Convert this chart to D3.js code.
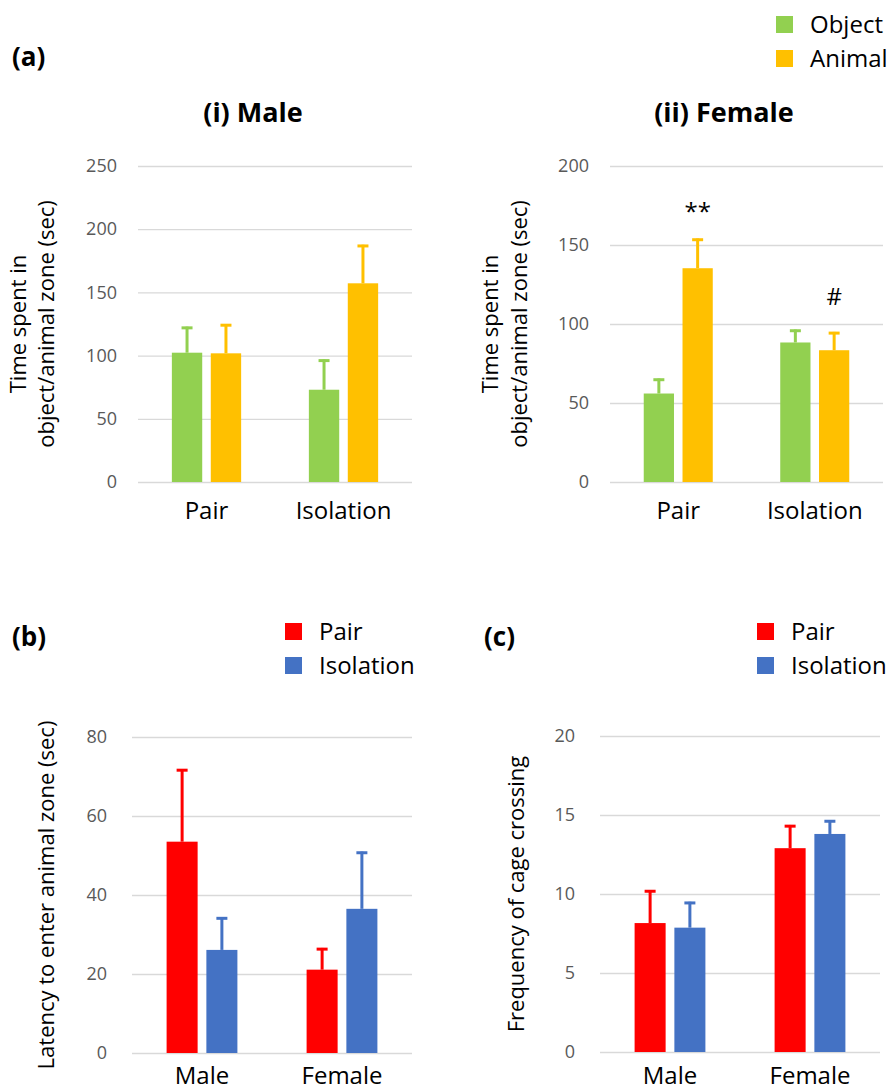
<!DOCTYPE html>
<html>
<head>
<meta charset="utf-8">
<script src="https://cdn.jsdelivr.net/npm/d3@7"></script>
<style>
  html, body { margin: 0; padding: 0; background: #fff; }
  svg { display: block; font-family: "Open Sans", sans-serif; }
</style>
</head>
<body>
<svg id="chart" width="889" height="1091"></svg>
<script>
// ---------------- DATA ----------------
const housingCategories = ["Pair", "Isolation"];
const zoneSeries = ["Object", "Animal"];
const sexCategories = ["Male", "Female"];
const housingSeries = ["Pair", "Isolation"];

// (a)(i) Male: time spent (sec)
const maleObjectMean = [102.3, 73.0];
const maleObjectErr = [20.6, 24.0];
const maleAnimalMean = [101.8, 157.2];
const maleAnimalErr = [23.2, 30.5];
const maleTicks = [0, 50, 100, 150, 200, 250];

// (a)(ii) Female: time spent (sec)
const femaleObjectMean = [56.0, 88.3];
const femaleObjectErr = [9.5, 8.2];
const femaleAnimalMean = [135.3, 83.4];
const femaleAnimalErr = [18.8, 11.6];
const femaleTicks = [0, 50, 100, 150, 200];
const femaleMarks = ["**", "#"];          // over Animal bars (Pair, Isolation)
const femaleMarkLevel = [166, 112];       // value level of the mark baseline

// (b) Latency to enter animal zone (sec)
const latencyPairMean = [53.5, 21.1];
const latencyPairErr = [18.4, 5.5];
const latencyIsolationMean = [26.1, 36.5];
const latencyIsolationErr = [8.3, 14.5];
const latencyTicks = [0, 20, 40, 60, 80];

// (c) Frequency of cage crossing
const crossingPairMean = [8.16, 12.9];
const crossingPairErr = [2.09, 1.47];
const crossingIsolationMean = [7.87, 13.8];
const crossingIsolationErr = [1.64, 0.88];
const crossingTicks = [0, 5, 10, 15, 20];

// ---------------- STYLE ----------------
const colors = {
  Object: "#92D050",
  Animal: "#FFC000",
  Pair: "#FF0000",
  Isolation: "#4472C4"
};

const svg = d3.select("#chart");

function drawPanel(cfg) {
  const g = svg.append("g");
  const y = d3.scaleLinear().domain([0, cfg.ticks[cfg.ticks.length - 1]]).range([cfg.bottom, cfg.top]);
  const x0 = d3.scaleBand().domain(cfg.categories).range([cfg.left, cfg.right]).padding(0);
  const x1 = d3.scaleBand().domain(cfg.series).range([0, x0.bandwidth()])
    .paddingInner(0.22).paddingOuter(0.87);

  // gridlines + tick labels
  const ax = g.append("g").attr("transform", `translate(${cfg.left},0)`)
    .call(d3.axisLeft(y).tickValues(cfg.ticks).tickSize(-(cfg.right - cfg.left)).tickPadding(cfg.tickPad));
  ax.select(".domain").remove();
  ax.selectAll(".tick line").attr("stroke", "#D9D9D9").attr("stroke-width", 1.3);
  ax.selectAll(".tick text").attr("fill", "#595959").style("font-size", "18px")
    .style("font-family", '"Open Sans", sans-serif');

  // bars + error bars
  cfg.series.forEach((s, si) => {
    const means = cfg.means[si], errs = cfg.errs[si];
    cfg.categories.forEach((c, ci) => {
      const bx = x0(c) + x1(s);
      const bw = x1.bandwidth();
      const cx = bx + bw / 2;
      g.append("rect")
        .attr("x", bx).attr("width", bw)
        .attr("y", y(means[ci])).attr("height", y(0) - y(means[ci]))
        .attr("fill", colors[s]);
      const yt = y(means[ci] + errs[ci]);
      g.append("line").attr("x1", cx).attr("x2", cx)
        .attr("y1", y(means[ci])).attr("y2", yt)
        .attr("stroke", colors[s]).attr("stroke-width", 3);
      g.append("line").attr("x1", cx - 5.5).attr("x2", cx + 5.5)
        .attr("y1", yt + 1.2).attr("y2", yt + 1.2)
        .attr("stroke", colors[s]).attr("stroke-width", 3);
    });
  });

  // category labels
  cfg.categories.forEach(c => {
    g.append("text").attr("x", x0(c) + x0.bandwidth() / 2).attr("y", cfg.bottom + cfg.catOffset)
      .attr("text-anchor", "middle").style("font-size", "24px").attr("fill", "#000").text(c);
  });

  // y axis title (rotated)
  const midY = (cfg.top + cfg.bottom) / 2;
  cfg.yTitle.forEach((line, i) => {
    g.append("text")
      .attr("transform", `translate(${cfg.yTitleX[i]},${midY}) rotate(-90)`)
      .attr("text-anchor", "middle").style("font-size", "22px").attr("fill", "#000").text(line);
  });

  return { g, x0, x1, y };
}

function legend(x, y0, items) {
  items.forEach((s, i) => {
    const yy = y0 + i * 34;
    svg.append("rect").attr("x", x).attr("y", yy).attr("width", 17).attr("height", 17).attr("fill", colors[s]);
    svg.append("text").attr("x", x + 34).attr("y", yy + 16.5).style("font-size", "24px").attr("fill", "#000").text(s);
  });
}

function bold(x, y, t, size, anchor) {
  svg.append("text").attr("x", x).attr("y", y).attr("text-anchor", anchor || "start")
    .style("font-size", size + "px").style("font-weight", "bold").attr("fill", "#000").text(t);
}

// ---------------- PANELS ----------------
drawPanel({
  categories: housingCategories, series: zoneSeries,
  means: [maleObjectMean, maleAnimalMean], errs: [maleObjectErr, maleAnimalErr],
  ticks: maleTicks, left: 138, right: 412, top: 166, bottom: 482, tickPad: 21, catOffset: 37,
  yTitle: ["Time spent in", "object/animal zone (sec)"], yTitleX: [26, 54]
});

const fem = drawPanel({
  categories: housingCategories, series: zoneSeries,
  means: [femaleObjectMean, femaleAnimalMean], errs: [femaleObjectErr, femaleAnimalErr],
  ticks: femaleTicks, left: 610, right: 883, top: 166, bottom: 482, tickPad: 21, catOffset: 37,
  yTitle: ["Time spent in", "object/animal zone (sec)"], yTitleX: [498, 527]
});
housingCategories.forEach((c, ci) => {
  fem.g.append("text")
    .attr("x", fem.x0(c) + fem.x1("Animal") + fem.x1.bandwidth() / 2)
    .attr("y", fem.y(femaleMarkLevel[ci]))
    .attr("text-anchor", "middle").style("font-size", "24px").attr("fill", "#000")
    .text(femaleMarks[ci]);
});

drawPanel({
  categories: sexCategories, series: housingSeries,
  means: [latencyPairMean, latencyIsolationMean], errs: [latencyPairErr, latencyIsolationErr],
  ticks: latencyTicks, left: 132, right: 412, top: 737, bottom: 1053, tickPad: 25, catOffset: 31,
  yTitle: ["Latency to enter animal zone (sec)"], yTitleX: [54]
});

drawPanel({
  categories: sexCategories, series: housingSeries,
  means: [crossingPairMean, crossingIsolationMean], errs: [crossingPairErr, crossingIsolationErr],
  ticks: crossingTicks, left: 600, right: 880, top: 736, bottom: 1052, tickPad: 25, catOffset: 32,
  yTitle: ["Frequency of cage crossing"], yTitleX: [524]
});

// ---------------- LABELS & LEGENDS ----------------
bold(12, 66, "(a)", 26);
bold(253, 122, "(i) Male", 27, "middle");
bold(724, 122, "(ii) Female", 27, "middle");
bold(12, 646, "(b)", 26);
bold(484, 646, "(c)", 26);

legend(776, 16, zoneSeries);
legend(285, 623, housingSeries);
legend(757, 623, housingSeries);
</script>
</body>
</html>
